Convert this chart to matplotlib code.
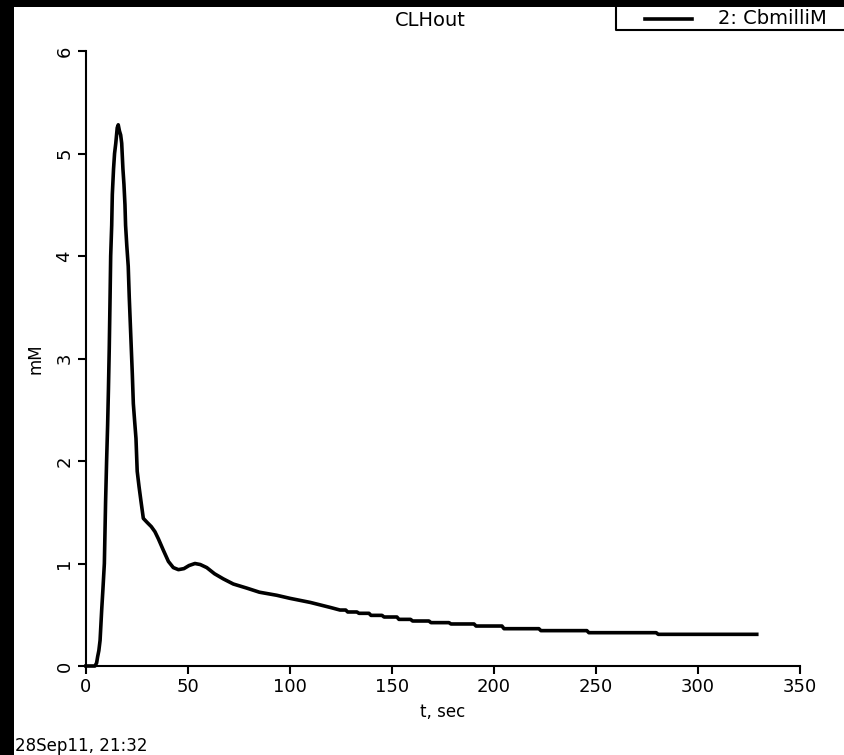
import matplotlib
matplotlib.use("Agg")
import numpy as np
from matplotlib import pyplot as plt
from matplotlib.patches import Rectangle
from matplotlib.lines import Line2D

# data (t in sec, CbmilliM in mM)
t = [0, 4.4, 5.2, 5.7, 6.3, 6.9, 7.3, 7.7, 8.3, 9.0, 9.3, 9.6, 10.1, 10.6,
     11.0, 11.4, 11.8, 12.1, 12.6, 12.9, 13.5, 14.0, 14.6, 15.3, 15.8, 16.4,
     17.0, 17.5, 18.1, 18.6, 19.1, 19.4, 20.0, 20.7, 21.2, 21.6, 22.2, 22.7,
     23.2, 23.8, 24.5, 25.1, 26.0, 27.0, 28.1, 30.0, 32.0, 33.8, 35.5, 37.9,
     40.4, 42.8, 45.3, 48.0, 50.5, 53.4, 56.0, 59.2, 63.0, 67.3, 72.2, 78.8,
     85.0, 93.5, 100.0, 110.0, 120.0, 124.5,
     127.3, 128.3, 132.8, 133.8, 138.7, 139.7, 145.1, 146.1, 152.4, 153.4,
     159.1, 160.1, 168.1, 169.1, 177.9, 178.9, 190.2, 191.2, 203.9, 204.9,
     222.0, 223.0, 245.5, 246.5, 279.5, 280.5, 328.8]
cb = [0.0, 0.0, 0.03, 0.09, 0.15, 0.25, 0.40, 0.55, 0.75, 1.00, 1.30, 1.60,
      2.00, 2.35, 2.70, 3.10, 3.60, 4.00, 4.30, 4.60, 4.85, 5.00, 5.10, 5.25,
      5.28, 5.22, 5.18, 5.10, 4.85, 4.70, 4.50, 4.30, 4.10, 3.90, 3.60, 3.40,
      3.10, 2.85, 2.56, 2.40, 2.22, 1.90, 1.75, 1.60, 1.44, 1.40, 1.36, 1.31,
      1.24, 1.13, 1.02, 0.96, 0.94, 0.95, 0.98, 1.00, 0.99, 0.96, 0.90, 0.85,
      0.80, 0.76, 0.72, 0.69, 0.66, 0.62, 0.57, 0.546,
      0.546, 0.527, 0.527, 0.514, 0.514, 0.494, 0.494, 0.478, 0.478, 0.455,
      0.455, 0.439, 0.439, 0.423, 0.423, 0.41, 0.41, 0.39, 0.39, 0.364,
      0.364, 0.345, 0.345, 0.325, 0.325, 0.309, 0.309]

xticks = [0, 50, 100, 150, 200, 250, 300, 350]
yticks = [0, 1, 2, 3, 4, 5, 6]

plt.rcParams['font.family'] = 'DejaVu Sans'

W, H = 845, 755
fig = plt.figure(figsize=(W / 100, H / 100), dpi=100)
fig.patch.set_facecolor('black')
# white page, black strips on left and top
fig.add_artist(Rectangle((14 / W, 0), 1, (H - 7) / H, transform=fig.transFigure,
                         facecolor='white', edgecolor='none', zorder=-10))

ax = fig.add_axes([86 / W, (H - 666) / H, (800 - 86) / W, (666 - 51) / H])
ax.set_facecolor('white')
ax.plot(t, cb, color='black', lw=2.6, solid_joinstyle='round', clip_on=False)

ax.set_xlim(0, 350)
ax.set_ylim(0, 6)
ax.set_xticks(xticks)
ax.set_yticks(yticks)
ax.spines['top'].set_visible(False)
ax.spines['right'].set_visible(False)
for s in ('left', 'bottom'):
    ax.spines[s].set_linewidth(1.5)
ax.tick_params(direction='out', length=6, width=1.5, labelsize=13, pad=3)
ax.tick_params(axis='y', labelrotation=90)
for lab in ax.get_yticklabels():
    lab.set_va('center')
ax.set_xlabel('t, sec', fontsize=12, labelpad=5)
ax.set_ylabel('mM', fontsize=12, labelpad=8)

fig.text(430 / W, 1 - 20 / H, 'CLHout', fontsize=14, ha='center', va='center')

# legend box in the top right corner
fig.add_artist(Line2D([616 / W, 616 / W, 1.0], [1 - 7 / H, 1 - 30 / H, 1 - 30 / H],
                      transform=fig.transFigure, color='black', lw=1.5))
fig.add_artist(Line2D([645 / W, 692 / W], [1 - 19 / H, 1 - 19 / H],
                      transform=fig.transFigure, color='black', lw=2.6))
fig.text(718 / W, 1 - 19 / H, '2: CbmilliM', fontsize=14, ha='left', va='center')

fig.text(15 / W, 4 / H, '28Sep11, 21:32', fontsize=12, ha='left', va='baseline')

fig.savefig('out.png', dpi=100, facecolor=fig.get_facecolor())
